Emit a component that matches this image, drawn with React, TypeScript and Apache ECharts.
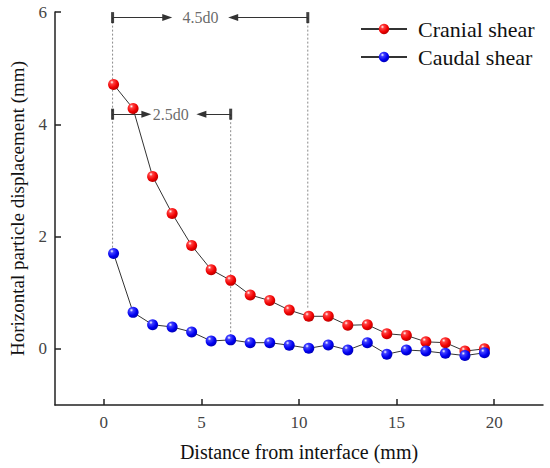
import React, { useEffect, useRef } from "react";
import * as echarts from "echarts";

// ---- data ----
const distances = [0.5, 1.5, 2.5, 3.5, 4.5, 5.5, 6.5, 7.5, 8.5, 9.5, 10.5, 11.5, 12.5, 13.5, 14.5, 15.5, 16.5, 17.5, 18.5, 19.5];
const cranialShear = [4.71, 4.28, 3.07, 2.41, 1.84, 1.41, 1.22, 0.96, 0.86, 0.69, 0.58, 0.58, 0.42, 0.43, 0.27, 0.24, 0.125, 0.11, -0.04, 0.0];
const caudalShear = [1.7, 0.65, 0.43, 0.39, 0.3, 0.14, 0.16, 0.11, 0.11, 0.065, 0.01, 0.07, -0.02, 0.11, -0.095, -0.02, -0.04, -0.08, -0.12, -0.07];
const seriesNames = ["Cranial shear", "Caudal shear"];

const xTicks = [0, 5, 10, 15, 20];
const yTicks = [0, 2, 4, 6];

// dimension annotations (data units)
const spanLabels = ["4.5d0", "2.5d0"];
const spanLevel = [5.9, 4.18];
const spanStart = [0.45, 0.45];
const spanEnd = [10.45, 6.5];
const spanLeftArrowEnd = [3.25, 2.18];
const spanRightArrowEnd = [6.63, 5.0];
const spanLabelX = [4.95, 3.43];
// dotted guide lines: x, top, bottom
const guideX = [0.45, 10.45, 6.5];
const guideTop = [5.9, 5.9, 4.18];
const guideBottom = [1.8, 0.72, 0.22];

const FONT = "Liberation Serif";

function ballGradient(light: string, mid: string, dark: string) {
  return new echarts.graphic.RadialGradient(0.35, 0.3, 0.75, [
    { offset: 0, color: "#ffffff" },
    { offset: 0.22, color: light },
    { offset: 0.65, color: mid },
    { offset: 1, color: dark },
  ]);
}

export default function App() {
  const ref = useRef<HTMLDivElement>(null);
  useEffect(() => {
    document.body.style.margin = "0";
    if (!ref.current) return;
    const chart = echarts.init(ref.current, undefined, { renderer: "svg" });

    const guideSeries = guideX.map((x, i) => ({
      type: "line",
      name: "guide" + i,
      data: [
        [x, guideTop[i]],
        [x, guideBottom[i]],
      ],
      symbol: "none",
      silent: true,
      z: 1,
      lineStyle: { color: "#8a8a8a", width: 1, type: [2, 2] },
    }));

    const arrowLines: any[] = [];
    spanLabels.forEach((_, i) => {
      arrowLines.push([
        { coord: [spanStart[i], spanLevel[i]], symbol: "none" },
        { coord: [spanLeftArrowEnd[i], spanLevel[i]], symbol: "triangle" },
      ]);
      arrowLines.push([
        { coord: [spanEnd[i], spanLevel[i]], symbol: "none" },
        { coord: [spanRightArrowEnd[i], spanLevel[i]], symbol: "triangle" },
      ]);
    });

    const barPoints: number[][] = [];
    spanLabels.forEach((_, i) => {
      barPoints.push([spanStart[i], spanLevel[i]]);
      barPoints.push([spanEnd[i], spanLevel[i]]);
    });

    chart.setOption({
      animation: false,
      grid: { left: 54, right: 7, top: 12, bottom: 63 },
      legend: {
        data: seriesNames,
        orient: "vertical",
        left: 360,
        top: 17,
        padding: 0,
        itemWidth: 46,
        itemHeight: 13,
        itemGap: 4,
        selectedMode: false,
        textStyle: { fontFamily: FONT, fontSize: 22, color: "#111", lineHeight: 24, padding: [0, 0, 0, 6] },
      },
      xAxis: {
        type: "value",
        min: -2.5,
        max: 22.5,
        name: "Distance from interface (mm)",
        nameLocation: "middle",
        nameGap: 37,
        nameTextStyle: { fontFamily: FONT, fontSize: 20, color: "#111" },
        axisLine: { onZero: false, lineStyle: { color: "#222", width: 1.5 } },
        axisTick: { inside: true, length: 6, customValues: xTicks, lineStyle: { color: "#222", width: 1.5 } },
        axisLabel: { customValues: xTicks, margin: 9, fontFamily: FONT, fontSize: 17, color: "#444" },
        splitLine: { show: false },
      },
      yAxis: {
        type: "value",
        min: -1,
        max: 6,
        name: "Horizontal particle displacement (mm)",
        nameLocation: "middle",
        nameGap: 28,
        nameTextStyle: { fontFamily: FONT, fontSize: 19, color: "#111" },
        axisLine: { onZero: false, lineStyle: { color: "#222", width: 1.5 } },
        axisTick: { inside: true, length: 6, customValues: yTicks, lineStyle: { color: "#222", width: 1.5 } },
        axisLabel: { customValues: yTicks, margin: 8, fontFamily: FONT, fontSize: 17, color: "#444" },
        splitLine: { show: false },
      },
      series: [
        ...guideSeries,
        {
          type: "line",
          name: "dimension",
          data: [],
          silent: true,
          markLine: {
            silent: true,
            animation: false,
            symbolSize: [7, 10],
            label: { show: false },
            lineStyle: { color: "#333", width: 1, type: "solid" },
            emphasis: { disabled: true },
            data: arrowLines,
          },
        },
        {
          type: "scatter",
          name: "bars",
          data: barPoints,
          symbol: "rect",
          symbolSize: [3, 11],
          silent: true,
          z: 4,
          itemStyle: { color: "#111" },
        },
        {
          type: "scatter",
          name: "spanLabels",
          data: spanLabels.map((t, i) => ({ name: t, value: [spanLabelX[i], spanLevel[i]] })),
          symbolSize: 1,
          silent: true,
          itemStyle: { color: "rgba(0,0,0,0)" },
          label: {
            show: true,
            position: "inside",
            formatter: "{b}",
            fontFamily: FONT,
            fontSize: 16,
            color: "#444",
          },
        },
        {
          type: "line",
          name: seriesNames[0],
          data: distances.map((x, i) => [x, cranialShear[i]]),
          symbol: "circle",
          symbolSize: 11,
          z: 3,
          lineStyle: { color: "#333", width: 1 },
          itemStyle: { color: ballGradient("#ff4040", "#f00000", "#b00000") },
          emphasis: { disabled: true },
        },
        {
          type: "line",
          name: seriesNames[1],
          data: distances.map((x, i) => [x, caudalShear[i]]),
          symbol: "circle",
          symbolSize: 11,
          z: 3,
          lineStyle: { color: "#333", width: 1 },
          itemStyle: { color: ballGradient("#4040ff", "#0000f0", "#0000b0") },
          emphasis: { disabled: true },
        },
      ],
    });
    return () => chart.dispose();
  }, []);
  return <div ref={ref} style={{ width: 550, height: 468 }} />;
}
